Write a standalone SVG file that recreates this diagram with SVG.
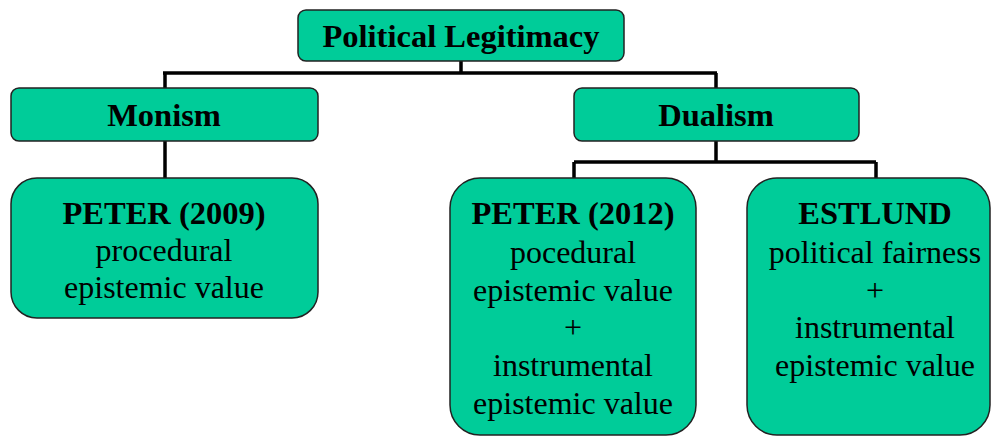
<svg xmlns="http://www.w3.org/2000/svg" width="992" height="437" viewBox="0 0 992 437">
<style>
.box{fill:#00CC99;stroke:#222;stroke-width:1.5}
.t{font-family:"Liberation Serif","Times New Roman",serif;font-size:32px;text-anchor:middle;fill:#000}
.b{font-weight:bold;font-size:32.5px}
.c{fill:none;stroke:#000;stroke-width:3.5}
</style>
<rect width="992" height="437" fill="#fff"/>
<g id="connectors">
<path class="c" d="M461 61V73M163 73H717M165 73V88M716 73V88"/>
<path class="c" d="M165 141V178"/>
<path class="c" d="M716 141V162M574 162H876M574 162V178M876 162V178"/>
</g>
<g id="n-legitimacy">
<rect class="box" x="298" y="10" width="326" height="51" rx="8"/>
<text class="t b" x="461" y="47">Political Legitimacy</text>
</g>
<g id="n-monism">
<rect class="box" x="11" y="88" width="307" height="53" rx="8"/>
<text class="t b" x="164" y="126">Monism</text>
</g>
<g id="n-dualism">
<rect class="box" x="574" y="88" width="285" height="53" rx="8"/>
<text class="t b" x="716" y="126">Dualism</text>
</g>
<g id="n-peter2009">
<rect class="box" x="11" y="178" width="307" height="140" rx="26"/>
<text class="t b" x="164" y="224">PETER (2009)</text>
<text class="t" x="164" y="261">procedural</text>
<text class="t" x="164" y="298">epistemic value</text>
</g>
<g id="n-peter2012">
<rect class="box" x="450" y="178" width="246" height="257" rx="30"/>
<text class="t b" x="573" y="224">PETER (2012)</text>
<text class="t" x="573" y="263">pocedural</text>
<text class="t" x="573" y="301">epistemic value</text>
<text class="t" x="573" y="338">+</text>
<text class="t" x="573" y="376">instrumental</text>
<text class="t" x="573" y="414">epistemic value</text>
</g>
<g id="n-estlund">
<rect class="box" x="747" y="178" width="243" height="257" rx="30"/>
<text class="t b" x="875" y="224">ESTLUND</text>
<text class="t" x="875" y="263">political fairness</text>
<text class="t" x="875" y="301">+</text>
<text class="t" x="875" y="338">instrumental</text>
<text class="t" x="875" y="376">epistemic value</text>
</g>
</svg>
